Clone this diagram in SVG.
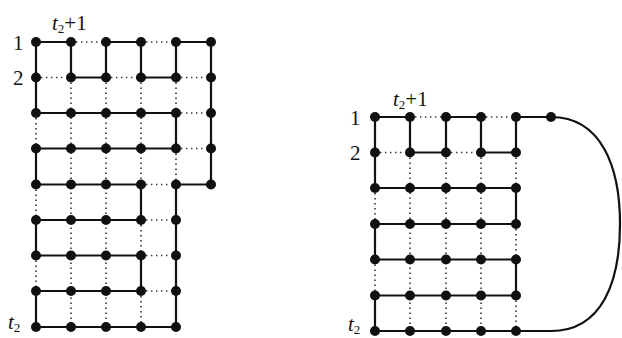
<svg xmlns="http://www.w3.org/2000/svg" width="622" height="338" viewBox="0 0 622 338">
<style>
.s{fill:none;stroke:#111;stroke-width:2.2;stroke-linejoin:miter}
.d{fill:none;stroke:#333;stroke-width:1.6;stroke-dasharray:1.4 3.6}
.node circle{fill:#111}
text{font-family:"Liberation Serif","DejaVu Serif",serif;font-size:21px;fill:#111}
.it{font-style:italic}
.sub{font-size:13px}
</style>
<rect width="622" height="338" fill="#fff"/>
<g id="connectors">
<g id="left-dotted">
<path class="d" d="M71,42H106M141,42H176M36,77.5H71M106,77.5H141M176,77.5H211M176,113H211M176,148.5H211M141,184.5H176M141,220H176M141,255.5H176M141,291H176"/>
<path class="d" d="M71,77.5V327M106,77.5V327M141,77.5V184.5M141,220V255.5M141,291V327M36,113V148.5M36,184.5V220M36,255.5V291M176,77.5V113M176,148.5V184.5"/>
</g>
<g id="right-dotted">
<path class="d" d="M410,117H446M481,117H516M375,152.5H410M446,152.5H481"/>
<path class="d" d="M410,152.5V331M446,152.5V331M481,152.5V331M375,188V224M375,259.5V295.5M516,152.5V188M516,224V259.5M516,295.5V331"/>
</g>
<path id="left-cycle" class="s" d="M36,42H71V77.5H106V42H141V77.5H176V42H211V184.5H176V327H36V291H141V255.5H36V220H141V184.5H36V148.5H176V113H36Z"/>
<path id="right-cycle" class="s" d="M375,117H410V152.5H446V117H481V152.5H516V117H551C602,117 620,168 620,224C620,282 602,331 551,331H375V295.5H516V259.5H375V224H516V188H375Z"/>
</g>
<g id="left-nodes" class="node">
<g id="L0-0"><circle cx="36" cy="42" r="5"/></g>
<g id="L0-1"><circle cx="71" cy="42" r="5"/></g>
<g id="L0-2"><circle cx="106" cy="42" r="5"/></g>
<g id="L0-3"><circle cx="141" cy="42" r="5"/></g>
<g id="L0-4"><circle cx="176" cy="42" r="5"/></g>
<g id="L0-5"><circle cx="211" cy="42" r="5"/></g>
<g id="L1-0"><circle cx="36" cy="77.5" r="5"/></g>
<g id="L1-1"><circle cx="71" cy="77.5" r="5"/></g>
<g id="L1-2"><circle cx="106" cy="77.5" r="5"/></g>
<g id="L1-3"><circle cx="141" cy="77.5" r="5"/></g>
<g id="L1-4"><circle cx="176" cy="77.5" r="5"/></g>
<g id="L1-5"><circle cx="211" cy="77.5" r="5"/></g>
<g id="L2-0"><circle cx="36" cy="113" r="5"/></g>
<g id="L2-1"><circle cx="71" cy="113" r="5"/></g>
<g id="L2-2"><circle cx="106" cy="113" r="5"/></g>
<g id="L2-3"><circle cx="141" cy="113" r="5"/></g>
<g id="L2-4"><circle cx="176" cy="113" r="5"/></g>
<g id="L2-5"><circle cx="211" cy="113" r="5"/></g>
<g id="L3-0"><circle cx="36" cy="148.5" r="5"/></g>
<g id="L3-1"><circle cx="71" cy="148.5" r="5"/></g>
<g id="L3-2"><circle cx="106" cy="148.5" r="5"/></g>
<g id="L3-3"><circle cx="141" cy="148.5" r="5"/></g>
<g id="L3-4"><circle cx="176" cy="148.5" r="5"/></g>
<g id="L3-5"><circle cx="211" cy="148.5" r="5"/></g>
<g id="L4-0"><circle cx="36" cy="184.5" r="5"/></g>
<g id="L4-1"><circle cx="71" cy="184.5" r="5"/></g>
<g id="L4-2"><circle cx="106" cy="184.5" r="5"/></g>
<g id="L4-3"><circle cx="141" cy="184.5" r="5"/></g>
<g id="L4-4"><circle cx="176" cy="184.5" r="5"/></g>
<g id="L4-5"><circle cx="211" cy="184.5" r="5"/></g>
<g id="L5-0"><circle cx="36" cy="220" r="5"/></g>
<g id="L5-1"><circle cx="71" cy="220" r="5"/></g>
<g id="L5-2"><circle cx="106" cy="220" r="5"/></g>
<g id="L5-3"><circle cx="141" cy="220" r="5"/></g>
<g id="L5-4"><circle cx="176" cy="220" r="5"/></g>
<g id="L6-0"><circle cx="36" cy="255.5" r="5"/></g>
<g id="L6-1"><circle cx="71" cy="255.5" r="5"/></g>
<g id="L6-2"><circle cx="106" cy="255.5" r="5"/></g>
<g id="L6-3"><circle cx="141" cy="255.5" r="5"/></g>
<g id="L6-4"><circle cx="176" cy="255.5" r="5"/></g>
<g id="L7-0"><circle cx="36" cy="291" r="5"/></g>
<g id="L7-1"><circle cx="71" cy="291" r="5"/></g>
<g id="L7-2"><circle cx="106" cy="291" r="5"/></g>
<g id="L7-3"><circle cx="141" cy="291" r="5"/></g>
<g id="L7-4"><circle cx="176" cy="291" r="5"/></g>
<g id="L8-0"><circle cx="36" cy="327" r="5"/></g>
<g id="L8-1"><circle cx="71" cy="327" r="5"/></g>
<g id="L8-2"><circle cx="106" cy="327" r="5"/></g>
<g id="L8-3"><circle cx="141" cy="327" r="5"/></g>
<g id="L8-4"><circle cx="176" cy="327" r="5"/></g>
</g>
<g id="right-nodes" class="node">
<g id="R0-0"><circle cx="375" cy="117" r="5"/></g>
<g id="R0-1"><circle cx="410" cy="117" r="5"/></g>
<g id="R0-2"><circle cx="446" cy="117" r="5"/></g>
<g id="R0-3"><circle cx="481" cy="117" r="5"/></g>
<g id="R0-4"><circle cx="516" cy="117" r="5"/></g>
<g id="R0-5"><circle cx="551" cy="117" r="5"/></g>
<g id="R1-0"><circle cx="375" cy="152.5" r="5"/></g>
<g id="R1-1"><circle cx="410" cy="152.5" r="5"/></g>
<g id="R1-2"><circle cx="446" cy="152.5" r="5"/></g>
<g id="R1-3"><circle cx="481" cy="152.5" r="5"/></g>
<g id="R1-4"><circle cx="516" cy="152.5" r="5"/></g>
<g id="R2-0"><circle cx="375" cy="188" r="5"/></g>
<g id="R2-1"><circle cx="410" cy="188" r="5"/></g>
<g id="R2-2"><circle cx="446" cy="188" r="5"/></g>
<g id="R2-3"><circle cx="481" cy="188" r="5"/></g>
<g id="R2-4"><circle cx="516" cy="188" r="5"/></g>
<g id="R3-0"><circle cx="375" cy="224" r="5"/></g>
<g id="R3-1"><circle cx="410" cy="224" r="5"/></g>
<g id="R3-2"><circle cx="446" cy="224" r="5"/></g>
<g id="R3-3"><circle cx="481" cy="224" r="5"/></g>
<g id="R3-4"><circle cx="516" cy="224" r="5"/></g>
<g id="R4-0"><circle cx="375" cy="259.5" r="5"/></g>
<g id="R4-1"><circle cx="410" cy="259.5" r="5"/></g>
<g id="R4-2"><circle cx="446" cy="259.5" r="5"/></g>
<g id="R4-3"><circle cx="481" cy="259.5" r="5"/></g>
<g id="R4-4"><circle cx="516" cy="259.5" r="5"/></g>
<g id="R5-0"><circle cx="375" cy="295.5" r="5"/></g>
<g id="R5-1"><circle cx="410" cy="295.5" r="5"/></g>
<g id="R5-2"><circle cx="446" cy="295.5" r="5"/></g>
<g id="R5-3"><circle cx="481" cy="295.5" r="5"/></g>
<g id="R5-4"><circle cx="516" cy="295.5" r="5"/></g>
<g id="R6-0"><circle cx="375" cy="331" r="5"/></g>
<g id="R6-1"><circle cx="410" cy="331" r="5"/></g>
<g id="R6-2"><circle cx="446" cy="331" r="5"/></g>
<g id="R6-3"><circle cx="481" cy="331" r="5"/></g>
<g id="R6-4"><circle cx="516" cy="331" r="5"/></g>
</g>
<g id="labels">
<text x="13" y="49.5" font-family="Liberation Serif, serif">1</text>
<text x="13" y="85" font-family="Liberation Serif, serif">2</text>
<text x="52" y="30" font-family="Liberation Serif, serif"><tspan class="it">t</tspan><tspan class="sub" dy="3">2</tspan><tspan dy="-3">+1</tspan></text>
<text x="8" y="329" font-family="Liberation Serif, serif"><tspan class="it">t</tspan><tspan class="sub" dy="3">2</tspan></text>
<text x="350" y="124.5" font-family="Liberation Serif, serif">1</text>
<text x="350" y="160" font-family="Liberation Serif, serif">2</text>
<text x="393" y="105.5" font-family="Liberation Serif, serif"><tspan class="it">t</tspan><tspan class="sub" dy="3">2</tspan><tspan dy="-3">+1</tspan></text>
<text x="348" y="331" font-family="Liberation Serif, serif"><tspan class="it">t</tspan><tspan class="sub" dy="3">2</tspan></text>
</g>
</svg>
